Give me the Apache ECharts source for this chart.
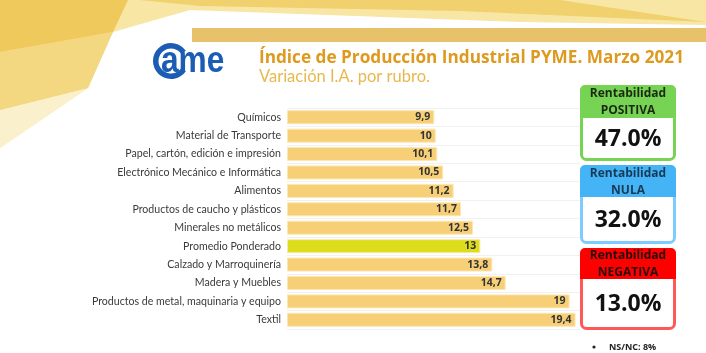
<!DOCTYPE html>
<html lang="es">
<head>
<meta charset="UTF-8">
<title>Índice de Producción Industrial PYME</title>
<script src="https://cdn.jsdelivr.net/npm/echarts@6/dist/echarts.min.js"></script>
<style>
  html, body { margin: 0; padding: 0; background: #fff; }
  #chart { width: 706px; height: 353px; }
</style>
</head>
<body>
<div id="chart"></div>
<script>
// datos
var rubros = [
  'Químicos',
  'Material de Transporte',
  'Papel, cartón, edición e impresión',
  'Electrónico Mecánico e Informática',
  'Alimentos',
  'Productos de caucho y plásticos',
  'Minerales no metálicos',
  'Promedio Ponderado',
  'Calzado y Marroquinería',
  'Madera y Muebles',
  'Productos de metal, maquinaria y equipo',
  'Textil'
];
var variacion = [9.9, 10, 10.1, 10.5, 11.2, 11.7, 12.5, 13, 13.8, 14.7, 19, 19.4];

var rentaTitulos = ['POSITIVA', 'NULA', 'NEGATIVA'];
var rentaValores = [47.0, 32.0, 13.0];
var nsnc = 8;

var chart = echarts.init(document.getElementById('chart'));

var barColor = '#F6CF76';
var promColor = '#DEDD1B';

// cajas de rentabilidad
var cajas = [
  { y: 85, h: 76, hh: 33, head: '#77D353', border: '#77D353', txt: '#1c2a14' },
  { y: 165, h: 79, hh: 32, head: '#45B4F7', border: '#7DCBFF', txt: '#173a56' },
  { y: 248, h: 82, hh: 31, head: '#FF0000', border: '#FF5858', txt: '#2a0a0a' }
];
var graficos = [
  // fondo decorativo
  { type: 'polygon', shape: { points: [[0,0],[706,0],[706,25],[520,22],[190,10],[113,32],[88,88],[0,148]] },
    style: { fill: '#F8E6A4' }, z: 0 },
  { type: 'polygon', shape: { points: [[0,110],[88,88],[0,148]] }, style: { fill: '#FBF0CC' }, z: 0 },
  { type: 'polygon', shape: { points: [[0,52],[113,32],[88,88],[0,110]] }, style: { fill: '#F3D781' }, z: 0 },
  { type: 'polygon', shape: { points: [[0,0],[128,0],[113,32],[0,52]] }, style: { fill: '#EFC95C' }, z: 0 },
  { type: 'polygon', shape: { points: [[140,0],[560,0],[706,22],[460,11],[200,6]] }, style: { fill: '#F1D06E' }, z: 0 },
  // barra del encabezado
  { type: 'rect', shape: { x: 192, y: 28, width: 514, height: 14 }, style: { fill: '#E8C26B' }, z: 1 },
  // logo
  { type: 'sector', shape: { cx: 171, cy: 61, r: 18, r0: 12.5, startAngle: 0.6, endAngle: Math.PI * 2 - 0.6 },
    style: { fill: '#1B5DB5' }, z: 2 },
  { type: 'text', x: 161, y: 62, scaleX: 0.88, style: { text: 'ame', fill: '#1B5DB5', font: 'bold 36px "Liberation Sans", Arial',
    verticalAlign: 'middle' }, z: 2 },
  // títulos
  { type: 'text', x: 259, y: 58, style: { text: 'Índice de Producción Industrial PYME. Marzo 2021', fill: '#DE9A1E',
    font: 'bold 17.2px "Open Sans"', verticalAlign: 'middle' }, z: 2 },
  { type: 'text', x: 259, y: 77, style: { text: 'Variación I.A. por rubro.', fill: '#E8B94E',
    font: '16.5px Lato', verticalAlign: 'middle' }, z: 2 },
  { type: 'circle', shape: { cx: 594, cy: 347, r: 1.6 }, style: { fill: '#222' }, z: 2 },
  { type: 'text', x: 609, y: 347, style: { text: 'NS/NC: ' + nsnc + '%', fill: '#222',
    font: 'bold 9px "Open Sans"', verticalAlign: 'middle' }, z: 2 }
];
cajas.forEach(function (c, i) {
  graficos.push({ type: 'rect', shape: { x: 581.5, y: c.y + 1.5, width: 93, height: c.h - 3, r: 5 },
    style: { fill: '#fff', stroke: c.border, lineWidth: 3 }, z: 3 });
  graficos.push({ type: 'rect', shape: { x: 580, y: c.y, width: 96, height: c.hh, r: [5, 5, 0, 0] },
    style: { fill: c.head }, z: 4 });
  graficos.push({ type: 'text', x: 628, y: c.y + c.hh / 2 + 1, style: { text: 'Rentabilidad\n' + rentaTitulos[i],
    fill: c.txt, font: 'bold 12px "Open Sans"', align: 'center', verticalAlign: 'middle', lineHeight: 17 }, z: 5 });
  graficos.push({ type: 'text', x: 628, y: c.y + c.hh + (c.h - c.hh) / 2, style: { text: rentaValores[i].toFixed(1) + '%',
    fill: '#111', font: 'bold 23px "Open Sans"', align: 'center', verticalAlign: 'middle' }, z: 5 });
});

var option = {
  backgroundColor: '#fff',
  animation: false,
  grid: { left: 287, right: 126, top: 108, bottom: 24 },
  xAxis: {
    type: 'value', min: 0, max: 19.7,
    axisLabel: { show: false }, axisLine: { show: false }, axisTick: { show: false },
    splitLine: { show: false }
  },
  yAxis: {
    type: 'category', inverse: true, data: rubros,
    axisLine: { show: false }, axisTick: { show: false },
    axisLabel: { color: '#3a3a3a', fontSize: 10.6, fontFamily: 'Lato', margin: 6 },
    splitLine: { show: true, lineStyle: { color: '#f1f1f1' } }
  },
  series: [{
    type: 'bar',
    barWidth: 14,
    data: variacion.map(function (v, i) {
      return { value: v, itemStyle: { color: rubros[i] === 'Promedio Ponderado' ? promColor : barColor } };
    }),
    itemStyle: { borderColor: '#FCE6B2', borderWidth: 1 },
    label: {
      show: true, position: 'insideRight', distance: 4,
      color: '#333', fontWeight: 'bold', fontSize: 10.5, fontFamily: '"Open Sans"',
      formatter: function (p) { return String(p.value).replace('.', ','); }
    }
  }],
  graphic: graficos
};
chart.setOption(option);
</script>
</body>
</html>
